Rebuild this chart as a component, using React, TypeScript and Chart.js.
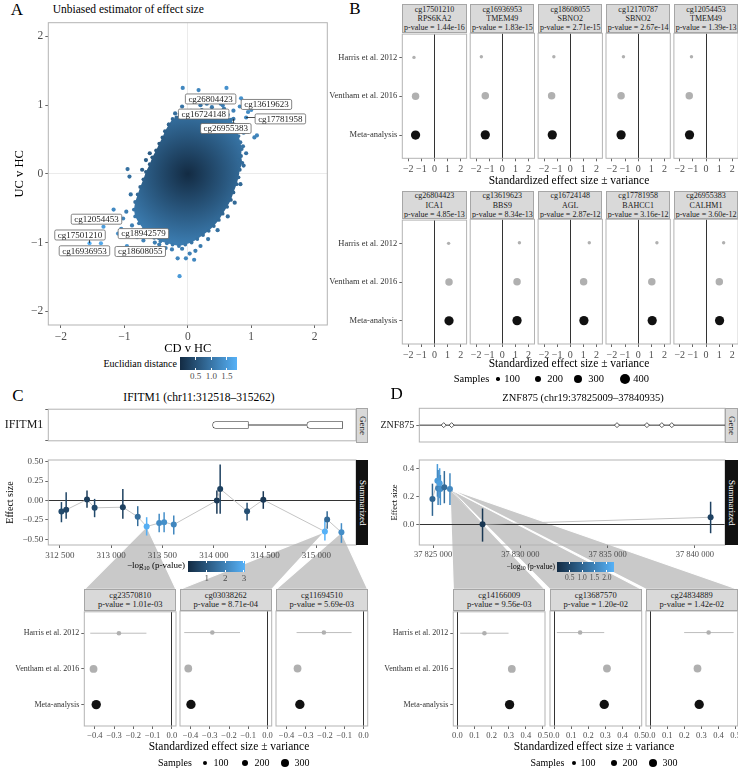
import React, { useEffect, useRef } from 'react';
import { Chart, registerables } from 'chart.js';

Chart.register(...registerables);
const SERIF = "'Liberation Serif', 'DejaVu Serif', serif";
Chart.defaults.font.family = SERIF;
Chart.defaults.color = '#4d4d4d';

// ================= DATA =================
// Panel A: unbiased estimator of effect size (CD v HC vs UC v HC)
const aTicks = [-2, -1, 0, 1, 2];
const aRange = [-2.2, 2.2];
const distanceRange = [0, 1.82];
const distanceBreaks = [0.5, 1.0, 1.5];
const cloudX = [-0.30, -0.24, -0.18, -0.13, -0.04, 0.05, 0.14, 0.22, 0.30, 0.38, 0.46, 0.55, 0.62, 0.68, 0.73, 0.77, 0.80, 0.83, 0.85, 0.84, 0.86, 0.82, 0.80, 0.77, 0.72, 0.68, 0.62, 0.55, 0.49, 0.41, 0.33, 0.24, 0.15, 0.06, -0.04, -0.14, -0.24, -0.33, -0.43, -0.53, -0.62, -0.70, -0.77, -0.83, -0.85, -0.83, -0.79, -0.75, -0.70, -0.66, -0.60, -0.56, -0.50, -0.45, -0.40, -0.36];
const cloudY = [0.72, 0.80, 0.82, 0.87, 0.88, 0.92, 0.90, 0.93, 0.90, 0.91, 0.88, 0.86, 0.84, 0.79, 0.72, 0.64, 0.55, 0.46, 0.36, 0.26, 0.16, 0.06, -0.05, -0.15, -0.27, -0.38, -0.48, -0.58, -0.67, -0.76, -0.83, -0.89, -0.95, -1.00, -1.03, -1.05, -1.03, -1.01, -0.98, -0.93, -0.88, -0.80, -0.72, -0.62, -0.52, -0.41, -0.30, -0.19, -0.08, 0.03, 0.14, 0.24, 0.34, 0.44, 0.53, 0.62];
const outlierX = [-0.08, 0.17, 0.61, 0.05, 0.30, 0.45, 0.70, 0.84, -0.09, 0.95, 1.00, 0.90, 0.88, 1.05, 1.09, 0.87, 0.80, 0.20, 0.38, -0.20, 0.57, -0.38, -0.95, -0.92, -0.60, -0.72, -0.90, -0.97, -1.17, -1.02, -0.80, -0.70, -0.45, -1.05, -0.16, -0.03, 0.10, 0.03, -0.13, -0.09, 0.20, 0.32, -0.25, 0.47, 0.63, 0.74, 0.83, 0.88, -0.52, -0.35, 0.12, -0.66, 0.92, 0.72, 0.55, -0.88];
const outlierY = [1.25, 1.22, 1.25, 1.12, 1.02, 1.06, 1.08, 1.10, 0.98, 0.90, 0.93, 0.70, 0.60, 0.53, 0.56, 0.40, 0.20, 1.00, 0.97, 0.88, 0.95, 0.51, 0.07, -0.04, 0.30, 0.06, -0.30, -0.55, -0.52, -0.65, -0.92, -0.97, -1.03, -0.80, -1.23, -1.23, -1.25, -1.16, -1.49, -1.09, -1.05, -0.95, -1.10, -0.82, -0.62, -0.42, -0.15, 0.12, -1.00, -1.08, -1.12, 0.20, 0.30, 0.92, 1.00, -0.75];
const labeledIds = ['cg26804423', 'cg13619623', 'cg16724148', 'cg17781958', 'cg26955383', 'cg12054453', 'cg17501210', 'cg18942579', 'cg16936953', 'cg18608055'];
const labeledX = [0.52, 0.82, 0.63, 0.92, 0.72, -1.33, -1.55, -1.10, -1.37, -0.96];
const labeledY = [1.02, 0.98, 0.86, 0.82, 0.80, -0.77, -1.01, -0.87, -1.01, -1.05];
const labelBoxX = [0.36, 1.24, 0.25, 1.46, 0.60, -1.44, -1.70, -0.70, -1.63, -0.75];
const labelBoxY = [1.09, 1.01, 0.87, 0.80, 0.66, -0.66, -0.89, -0.87, -1.12, -1.13];

// Panel B: top CpGs forest plots
const studies = ['Harris et al. 2012', 'Ventham et al. 2016', 'Meta-analysis'];
const studySamples = [100, 250, 350];
const bProbes = ['cg17501210', 'cg16936953', 'cg18608055', 'cg12170787', 'cg12054453', 'cg26804423', 'cg13619623', 'cg16724148', 'cg17781958', 'cg26955383'];
const bGenes = ['RPS6KA2', 'TMEM49', 'SBNO2', 'SBNO2', 'TMEM49', 'ICA1', 'BBS9', 'AGL', 'BAHCC1', 'CALHM1'];
const bPvals = ['1.44e-16', '1.83e-15', '2.71e-15', '2.67e-14', '1.39e-13', '4.85e-13', '8.34e-13', '2.87e-12', '3.16e-12', '3.60e-12'];
const bHarris = [-1.56, -1.60, -1.25, -1.12, -1.11, 1.08, 1.30, 1.45, 1.43, 1.34];
const bVentham = [-1.44, -1.30, -1.42, -1.30, -1.28, 1.11, 1.12, 1.02, 1.04, 1.01];
const bMeta = [-1.44, -1.30, -1.37, -1.30, -1.26, 1.11, 1.12, 1.04, 1.07, 1.03];
const bTicks = [-2, -1, 0, 1, 2];
const bRange = [-2.45, 2.45];
const bSampleBreaks = [100, 200, 300, 400];

// Panel C: IFITM1
const cTitle = 'IFITM1 (chr11:312518–315262)';
const cGeneName = 'IFITM1';
const cExonStart = [313988, 314906];
const cExonEnd = [314337, 315256];
const cXRange = [312388, 315385];
const cXTicks = [312500, 313000, 313500, 314000, 314500, 315000];
const cYRange = [-0.573, 0.522];
const cYTicks = [-0.5, -0.25, 0, 0.25, 0.5];
const cPos = [312516, 312562, 312765, 312839, 313114, 313259, 313346, 313468, 313516, 313610, 314030, 314062, 314324, 314482, 315082, 315104, 315243];
const cEff = [-0.142, -0.120, 0.013, -0.094, -0.086, -0.210, -0.335, -0.290, -0.280, -0.310, 0.000, 0.150, -0.137, 0.010, -0.400, -0.245, -0.410];
const cLo = [-0.280, -0.236, -0.094, -0.215, -0.236, -0.330, -0.451, -0.408, -0.408, -0.438, -0.172, -0.172, -0.258, -0.107, -0.515, -0.365, -0.545];
const cHi = [-0.020, 0.107, 0.129, 0.021, 0.150, -0.073, -0.215, -0.172, -0.150, -0.193, 0.129, 0.464, -0.030, 0.120, -0.258, -0.137, -0.292];
const cLogP = [0.7, 0.6, 0.4, 0.7, 0.5, 1.5, 3.0, 2.2, 2.3, 2.1, 0.3, 0.5, 0.8, 0.3, 3.06, 1.4, 2.24];
const cLogPRange = [0, 3.06];
const cLogPBreaks = [1, 2, 3];
const cLinks = [6, 14, 16];
const cfProbes = ['cg23570810', 'cg03038262', 'cg11694510'];
const cfPvals = ['1.01e-03', '8.71e-04', '5.69e-03'];
const cfHarris = [-0.275, -0.287, -0.206];
const cfHarrisLo = [-0.424, -0.433, -0.348];
const cfHarrisHi = [-0.132, -0.143, -0.062];
const cfVentham = [-0.407, -0.412, -0.343];
const cfMeta = [-0.393, -0.398, -0.331];
const cfRange = [-0.455, 0.0217];
const cfTicks = [-0.4, -0.3, -0.2, -0.1, 0];
const cdSampleBreaks = [100, 200, 300];

// Panel D: ZNF875
const dTitle = 'ZNF875 (chr19:37825009–37840935)';
const dGeneName = 'ZNF875';
const dExonPos = [37825611, 37826067, 37835542, 37837255, 37838111, 37838682];
const dXRange = [37824213, 37841731];
const dXTicks = [37825000, 37830000, 37835000, 37840000];
const dYRange = [-0.148, 0.459];
const dYTicks = [0, 0.2, 0.4];
const dPos = [37824966, 37825250, 37825290, 37825380, 37825420, 37825648, 37825970, 37827837, 37840907];
const dEff = [0.180, 0.310, 0.257, 0.293, 0.252, 0.264, 0.252, 0.000, 0.050];
const dLo = [0.060, 0.197, 0.137, 0.186, 0.137, 0.150, 0.138, -0.124, -0.064];
const dHi = [0.290, 0.430, 0.387, 0.400, 0.352, 0.380, 0.364, 0.113, 0.161];
const dLogP = [1.0, 1.9, 1.5, 2.0, 1.7, 1.1, 1.6, 0.2, 0.4];
const dLogPRange = [0, 2.3];
const dLogPBreaks = [0.5, 1.0, 1.5, 2.0];
const dLinks = [6, 6, 6];
const dfProbes = ['cg14166009', 'cg13687570', 'cg24834889'];
const dfPvals = ['9.56e-03', '1.20e-02', '1.42e-02'];
const dfHarris = [0.158, 0.152, 0.342];
const dfHarrisLo = [0.016, 0.016, 0.199];
const dfHarrisHi = [0.299, 0.293, 0.488];
const dfVentham = [0.318, 0.309, 0.277];
const dfMeta = [0.305, 0.293, 0.287];
const dfRange = [-0.024, 0.512];
const dfTicks = [0, 0.1, 0.2, 0.3, 0.4, 0.5];

// ================= HELPERS =================
const LOW = [19, 43, 67];
const HIGH = [86, 177, 247];
function gradColor(t: number) {
  const k = Math.max(0, Math.min(1, t));
  const c = LOW.map((v, i) => Math.round(v + (HIGH[i] - v) * k));
  return `rgb(${c[0]},${c[1]},${c[2]})`;
}
const distColor = (x: number, y: number) => gradColor((Math.hypot(x, y) - distanceRange[0]) / (distanceRange[1] - distanceRange[0]));
const minus = (s: string) => s.replace('-', '\u2212');
const fmtInt = (v: number) => minus(String(Math.round(v)));
const fmtFix = (d: number) => (v: number) => minus((Math.abs(v) < 1e-9 ? 0 : v).toFixed(d));
const fmtThousands = (v: number) => String(Math.round(v)).replace(/\B(?=(\d{3})+(?!\d))/g, ' ');
const rB = (n: number) => Math.sqrt(Math.max(0.5, 0.0737 * n - 4.48));
const rCD = (n: number) => Math.sqrt(Math.max(0.5, 0.066 * n - 1.31));
const studyColors = ['#b0b0b0', '#b0b0b0', '#111111'];

const framePlugin = {
  id: 'frame',
  beforeDatasetsDraw(chart: any, _a: any, opts: any) {
    if (!opts || !opts.color) return;
    const { ctx, chartArea: a } = chart;
    ctx.save();
    ctx.strokeStyle = opts.color;
    ctx.lineWidth = 1;
    ctx.strokeRect(a.left, a.top, a.right - a.left, a.bottom - a.top);
    ctx.restore();
  },
};
const errorBarPlugin = {
  id: 'errbars',
  beforeDatasetsDraw(chart: any) {
    const { ctx } = chart;
    chart.data.datasets.forEach((ds: any, i: number) => {
      if (!ds.errLo) return;
      const meta = chart.getDatasetMeta(i);
      const xs = chart.scales[meta.xAxisID];
      const ys = chart.scales[meta.yAxisID];
      ds.data.forEach((p: any, j: number) => {
        const lo = ds.errLo[j];
        const hi = ds.errHi[j];
        if (lo == null || hi == null) return;
        ctx.save();
        ctx.strokeStyle = Array.isArray(ds.errColor) ? ds.errColor[j] : ds.errColor;
        ctx.lineWidth = ds.errWidth || 1;
        ctx.beginPath();
        if (ds.errAxis === 'x') {
          const y = ys.getPixelForValue(p.y);
          ctx.moveTo(xs.getPixelForValue(lo), y);
          ctx.lineTo(xs.getPixelForValue(hi), y);
        } else {
          const x = xs.getPixelForValue(p.x);
          ctx.moveTo(x, ys.getPixelForValue(lo));
          ctx.lineTo(x, ys.getPixelForValue(hi));
        }
        ctx.stroke();
        ctx.restore();
      });
    });
  },
};
Chart.register(framePlugin as any, errorBarPlugin as any);

function linAxis(p: any) {
  const show = p.show !== false;
  const ax: any = {
    type: 'linear',
    min: p.min,
    max: p.max,
    reverse: !!p.reverse,
    afterBuildTicks: (s: any) => {
      s.ticks = p.ticks.map((v: number) => ({ value: v }));
    },
    ticks: {
      display: show,
      autoSkip: false,
      maxRotation: 0,
      minRotation: 0,
      padding: p.pad ?? 2,
      font: { size: p.size, family: SERIF },
      color: p.color || '#4d4d4d',
      callback: (v: any) => p.fmt(Number(v)),
    },
    grid: {
      display: show || !!p.zero,
      drawOnChartArea: !!p.zero,
      drawTicks: show,
      color: (c: any) => (p.zero && c.tick && Math.abs(c.tick.value) < 1e-9 ? p.zero : 'rgba(0,0,0,0)'),
      tickLength: show ? 3 : 0,
      tickColor: '#666666',
      lineWidth: 1,
    },
    border: { display: false },
    title: { display: false },
  };
  if (p.title) {
    ax.title = { display: true, text: p.title, color: '#000', font: { size: p.titleSize, family: SERIF }, padding: p.titlePad };
  }
  return ax;
}
function hiddenAxis(r: number[]) {
  return {
    type: 'linear',
    min: r[0],
    max: r[1],
    ticks: { display: false },
    grid: { display: false },
    border: { display: false },
    title: { display: false },
  };
}

type Box = { l: number; t: number; r: number; b: number };

function ChartBox({ box, area, make }: { box: Box; area: Box; make: () => any }) {
  const ref = useRef<HTMLCanvasElement | null>(null);
  useEffect(() => {
    if (!ref.current) return;
    const cfg = make();
    const o = cfg.options || (cfg.options = {});
    o.animation = false;
    o.responsive = false;
    o.maintainAspectRatio = false;
    o.events = [];
    o.layout = { padding: { left: 0, top: area.t - box.t, right: box.r - area.r, bottom: 0 } };
    o.plugins = Object.assign({ legend: { display: false }, tooltip: { enabled: false } }, o.plugins || {});
    o.scales.x.afterFit = (s: any) => {
      s.height = box.b - area.b;
    };
    o.scales.y.afterFit = (s: any) => {
      s.width = area.l - box.l;
    };
    const chart = new Chart(ref.current, cfg);
    return () => chart.destroy();
  }, []);
  const w = box.r - box.l;
  const h = box.b - box.t;
  return <canvas ref={ref} width={w} height={h} style={{ position: 'absolute', left: box.l, top: box.t, width: w, height: h }} />;
}

function T({ x, y, s, children, a = 'c', c = '#000' }: any) {
  const tx = a === 'c' ? '-50%' : a === 'r' ? '-100%' : '0';
  return (
    <div style={{ position: 'absolute', left: x, top: y, transform: `translate(${tx}, -50%)`, fontSize: s, fontFamily: SERIF, color: c, whiteSpace: 'nowrap', lineHeight: 1 }}>
      {children}
    </div>
  );
}

function Strip({ l, t, w, h, lines, size, lh }: any) {
  return (
    <div style={{ position: 'absolute', left: l, top: t, width: w, height: h, background: '#d9d9d9', border: '1px solid #a6a6a6', boxSizing: 'border-box', display: 'flex', flexDirection: 'column', justifyContent: 'center', alignItems: 'center', fontFamily: SERIF, fontSize: size, lineHeight: `${lh}px`, color: '#1a1a1a', whiteSpace: 'nowrap', overflow: 'hidden' }}>
      {lines.map((s: string, i: number) => (
        <div key={i}>{s}</div>
      ))}
    </div>
  );
}

function VStrip({ l, t, w, h, text, dark, size }: any) {
  return (
    <div style={{ position: 'absolute', left: l, top: t, width: w, height: h, background: dark ? '#111' : '#d9d9d9', border: dark ? 'none' : '1px solid #a6a6a6', boxSizing: 'border-box', display: 'flex', alignItems: 'center', justifyContent: 'center', overflow: 'hidden' }}>
      <div style={{ writingMode: 'vertical-rl', fontFamily: SERIF, fontSize: size, color: dark ? '#fff' : '#1a1a1a', whiteSpace: 'nowrap', lineHeight: 1 }}>{text}</div>
    </div>
  );
}

function ColorBar({ label, lx, box, range, breaks, fmt, size, lsize }: any) {
  const w = box.r - box.l;
  return (
    <>
      <T x={lx} y={(box.t + box.b) / 2} s={lsize} a="r">
        {label}
      </T>
      <div style={{ position: 'absolute', left: box.l, top: box.t, width: w, height: box.b - box.t, background: 'linear-gradient(to right, #132B43, #56B1F7)' }} />
      {breaks.map((b: number) => {
        const x = box.l + ((b - range[0]) / (range[1] - range[0])) * w;
        return (
          <React.Fragment key={b}>
            <div style={{ position: 'absolute', left: x - 0.5, top: box.t, width: 1, height: 2.5, background: '#fff' }} />
            <div style={{ position: 'absolute', left: x - 0.5, top: box.b - 2.5, width: 1, height: 2.5, background: '#fff' }} />
            <T x={x} y={box.b + 6} s={size} c="#4d4d4d">
              {fmt(b)}
            </T>
          </React.Fragment>
        );
      })}
    </>
  );
}

function SizeLegend({ y, labelX, dotX, textX, breaks, rFn, size }: any) {
  return (
    <>
      <T x={labelX} y={y} s={size}>
        Samples
      </T>
      {breaks.map((b: number, i: number) => {
        const r = rFn(b);
        return (
          <React.Fragment key={b}>
            <div style={{ position: 'absolute', left: dotX[i] - r, top: y - r, width: 2 * r, height: 2 * r, borderRadius: '50%', background: '#000' }} />
            <T x={textX[i]} y={y} s={size}>
              {b}
            </T>
          </React.Fragment>
        );
      })}
    </>
  );
}

// ================= CONFIGS =================
function scatterAConfig() {
  const labelPlugin = {
    id: 'aLabels',
    afterDatasetsDraw(chart: any) {
      const { ctx, scales } = chart;
      const x = scales.x;
      const y = scales.y;
      ctx.save();
      ctx.font = `9px ${SERIF}`;
      labeledIds.forEach((id, i) => {
        const bx = x.getPixelForValue(labelBoxX[i]);
        const by = y.getPixelForValue(labelBoxY[i]);
        const tw = ctx.measureText(id).width;
        const w = tw + 6;
        const h = 10;
        const px = x.getPixelForValue(labeledX[i]);
        const py = y.getPixelForValue(labeledY[i]);
        const cx = Math.max(bx - w / 2, Math.min(px, bx + w / 2));
        const cy = Math.max(by - h / 2, Math.min(py, by + h / 2));
        if (Math.hypot(px - cx, py - cy) > 3) {
          ctx.strokeStyle = '#222';
          ctx.lineWidth = 0.8;
          ctx.beginPath();
          ctx.moveTo(px, py);
          ctx.lineTo(cx, cy);
          ctx.stroke();
        }
        ctx.fillStyle = '#fff';
        ctx.strokeStyle = '#666';
        ctx.lineWidth = 0.8;
        ctx.beginPath();
        if ((ctx as any).roundRect) (ctx as any).roundRect(bx - w / 2, by - h / 2, w, h, 1.5);
        else ctx.rect(bx - w / 2, by - h / 2, w, h);
        ctx.fill();
        ctx.stroke();
        ctx.fillStyle = '#222';
        ctx.textAlign = 'center';
        ctx.textBaseline = 'middle';
        ctx.fillText(id, bx, by + 0.5);
      });
      ctx.restore();
    },
  };
  const cloud = cloudX.map((v, i) => ({ x: v, y: cloudY[i] }));
  cloud.push({ x: cloudX[0], y: cloudY[0] });
  const ptColor = (c: any) => (c.raw ? distColor(c.raw.x, c.raw.y) : '#132B43');
  return {
    type: 'scatter',
    data: {
      datasets: [
        { data: labeledX.map((v, i) => ({ x: v, y: labeledY[i] })), pointRadius: 2.1, pointBorderWidth: 0, pointBackgroundColor: ptColor },
        { data: outlierX.map((v, i) => ({ x: v, y: outlierY[i] })), pointRadius: 2.1, pointBorderWidth: 0, pointBackgroundColor: ptColor },
        {
          type: 'line',
          data: cloud,
          fill: 'shape',
          borderWidth: 0,
          borderColor: 'rgba(0,0,0,0)',
          tension: 0,
          pointRadius: 1.9,
          pointBorderWidth: 0,
          pointBackgroundColor: ptColor,
          backgroundColor: (c: any) => {
            const ch = c.chart;
            const sx = ch.scales.x;
            const sy = ch.scales.y;
            if (!ch.chartArea || !sx || !sy) return '#1f4a73';
            const cx = sx.getPixelForValue(0);
            const cy = sy.getPixelForValue(0);
            const r = sx.getPixelForValue(distanceRange[1]) - cx;
            const g = ch.ctx.createRadialGradient(cx, cy, 0, cx, cy, r);
            g.addColorStop(0, '#132B43');
            g.addColorStop(1, '#56B1F7');
            return g;
          },
        },
      ],
    },
    options: {
      scales: {
        x: linAxis({ min: aRange[0], max: aRange[1], ticks: aTicks, fmt: fmtInt, size: 11.5, zero: '#ebebeb', title: 'CD v HC', titleSize: 12.5, titlePad: { top: 0, bottom: 0 } }),
        y: linAxis({ min: aRange[0], max: aRange[1], ticks: aTicks, fmt: fmtInt, size: 11.5, zero: '#ebebeb', title: 'UC v HC', titleSize: 12.5, titlePad: { top: 12, bottom: 0 } }),
      },
      plugins: { frame: { color: '#b3b3b3' } },
    },
    plugins: [labelPlugin],
  };
}

function forestConfig(p: any) {
  const pts = [
    { x: p.h, y: 1 },
    { x: p.v, y: 2 },
    { x: p.m, y: 3 },
  ];
  return {
    type: 'scatter',
    data: {
      datasets: [
        {
          data: pts,
          pointRadius: studySamples.map(p.rFn),
          pointBackgroundColor: studyColors,
          pointBorderWidth: 0,
          errLo: [p.hLo ?? null, null, null],
          errHi: [p.hHi ?? null, null, null],
          errAxis: 'x',
          errColor: '#bdbdbd',
          errWidth: 1,
        },
      ],
    },
    options: {
      scales: {
        x: linAxis({ min: p.xr[0], max: p.xr[1], ticks: p.ticks, fmt: p.fmt, size: p.tickSize, zero: '#333333' }),
        y: linAxis({ min: 0.4, max: 3.6, reverse: true, ticks: [1, 2, 3], fmt: (v: number) => studies[Math.round(v) - 1], size: p.labelSize, show: p.showY, color: '#333333' }),
      },
      plugins: { frame: { color: '#b3b3b3' } },
    },
  };
}

function effectConfig(p: any) {
  const cols = p.logp.map((v: number) => gradColor((v - p.crange[0]) / (p.crange[1] - p.crange[0])));
  const linksPlugin = {
    id: 'links',
    beforeDraw(chart: any) {
      const { ctx, scales } = chart;
      const ds = chart.data.datasets[0].data;
      ctx.save();
      p.links.forEach((k: number, j: number) => {
        const px = scales.x.getPixelForValue(ds[k].x);
        const py = scales.y.getPixelForValue(ds[k].y);
        const tg = p.targets[j];
        ctx.beginPath();
        ctx.moveTo(px, py);
        ctx.lineTo(tg.r - p.box.l, tg.t - p.box.t);
        ctx.lineTo(tg.l - p.box.l, tg.t - p.box.t);
        ctx.closePath();
        ctx.fillStyle = '#c9c9c9';
        ctx.fill();
        ctx.strokeStyle = '#ffffff';
        ctx.lineWidth = 1.2;
        ctx.stroke();
      });
      ctx.restore();
    },
  };
  return {
    type: 'scatter',
    data: {
      datasets: [
        {
          data: p.pos.map((x: number, i: number) => ({ x, y: p.eff[i] })),
          showLine: true,
          borderColor: '#c4c4c4',
          borderWidth: 1,
          pointRadius: 3,
          pointBorderWidth: 0,
          pointBackgroundColor: cols,
          errLo: p.lo,
          errHi: p.hi,
          errAxis: 'y',
          errColor: cols,
          errWidth: 1.5,
        },
      ],
    },
    options: {
      scales: {
        x: linAxis({ min: p.xr[0], max: p.xr[1], ticks: p.xticks, fmt: fmtThousands, size: p.tsx }),
        y: linAxis({ min: p.yr[0], max: p.yr[1], ticks: p.yticks, fmt: p.yfmt, size: p.tsy, zero: '#333333', title: 'Effect size', titleSize: p.titleSize, titlePad: { top: p.titlePad, bottom: 0 } }),
      },
      plugins: { frame: { color: '#b3b3b3' } },
    },
    plugins: [linksPlugin],
  };
}

function geneConfigC() {
  return {
    type: 'scatter',
    data: {
      datasets: [
        {
          type: 'bar',
          indexAxis: 'y',
          data: cExonStart.map((s, i) => ({ x: [s, cExonEnd[i]], y: 1 })),
          backgroundColor: '#ffffff',
          borderColor: '#333333',
          borderWidth: 0.8,
          borderSkipped: false,
          barThickness: 7,
          borderRadius: { topLeft: 3.5, bottomLeft: 3.5, topRight: 0, bottomRight: 0 },
        },
        { type: 'line', data: [{ x: cExonEnd[0], y: 1 }, { x: cExonStart[1], y: 1 }], borderColor: '#333333', borderWidth: 1, pointRadius: 0 },
      ],
    },
    options: {
      scales: {
        x: hiddenAxis(cXRange),
        y: linAxis({ min: 0, max: 2, ticks: [1], fmt: () => cGeneName, size: 12, color: '#1a1a1a' }),
      },
      plugins: { frame: { color: '#b3b3b3' } },
    },
  };
}

function geneConfigD() {
  return {
    type: 'scatter',
    data: {
      datasets: [
        { data: dExonPos.map((x) => ({ x, y: 1 })), pointStyle: 'rectRot', pointRadius: 2.5, pointBackgroundColor: '#ffffff', pointBorderColor: '#333333', pointBorderWidth: 0.8 },
        { type: 'line', data: [{ x: dXRange[0], y: 1 }, { x: dXRange[1], y: 1 }], borderColor: '#333333', borderWidth: 1, pointRadius: 0 },
      ],
    },
    options: {
      scales: {
        x: hiddenAxis(dXRange),
        y: linAxis({ min: 0, max: 2, ticks: [1], fmt: () => dGeneName, size: 10, color: '#1a1a1a' }),
      },
      plugins: { frame: { color: '#b3b3b3' } },
    },
  };
}

// ================= LAYOUT =================
const cFacetL = [84.3, 180, 276];
const dFacetL = [453.3, 550, 646];
const facetW = 91.7;
const cdStripTop = 589.3;
const cdPanelTop = 611;
const cdPanelBottom = 726;

export default function App() {
  const cEffBox = { l: 0, t: 450, r: 368, b: 590 };
  const dEffBox = { l: 370, t: 450, r: 738, b: 590 };
  const cTargets = cFacetL.map((l) => ({ l, r: l + facetW, t: cdStripTop }));
  const dTargets = dFacetL.map((l) => ({ l, r: l + facetW, t: cdStripTop }));

  return (
    <div style={{ position: 'absolute', left: 0, top: 0, width: 738, height: 770, background: '#fff', overflow: 'hidden', fontFamily: SERIF }}>
      {/* ---------- Panel A ---------- */}
      <T x={17} y={9} s={17}>A</T>
      <T x={52.7} y={10} s={11.5} a="l">Unbiased estimator of effect size</T>
      <ChartBox box={{ l: 0, t: 0, r: 345, b: 356 }} area={{ l: 48.3, t: 22.7, r: 327.3, b: 325 }} make={scatterAConfig} />
      <ColorBar label="Euclidian distance" lx={177} box={{ l: 180, t: 357, r: 237, b: 370 }} range={distanceRange} breaks={distanceBreaks} fmt={(v: number) => v.toFixed(1)} size={9} lsize={10} />

      {/* ---------- Panel B ---------- */}
      <T x={355} y={8} s={17}>B</T>
      {bProbes.map((probe, i) => {
        const row = Math.floor(i / 5);
        const col = i % 5;
        const l = 402.3 + col * 67.9;
        const r = l + 64.3;
        const t = row ? 219.3 : 33.3;
        const b = row ? 344 : 158.3;
        const st = row ? 191 : 4.3;
        const box = { l: col === 0 ? 328 : Math.floor(l) - 6, t: Math.floor(t) - 6, r: Math.ceil(r) + 6, b: Math.ceil(b) + 16 };
        return (
          <React.Fragment key={probe}>
            <ChartBox
              box={box}
              area={{ l, t, r, b }}
              make={() => forestConfig({ h: bHarris[i], v: bVentham[i], m: bMeta[i], xr: bRange, ticks: bTicks, fmt: fmtInt, tickSize: 10, labelSize: 8.5, showY: col === 0, rFn: rB })}
            />
            <Strip l={l} t={st} w={r - l} h={t - st} lines={[probe, bGenes[i], `p-value = ${bPvals[i]}`]} size={8} lh={9.2} />
          </React.Fragment>
        );
      })}
      <T x={569} y={181} s={11.5}>Standardized effect size ± variance</T>
      <T x={569} y={364} s={11.5}>Standardized effect size ± variance</T>
      <SizeLegend y={379} labelX={471.5} dotX={[498, 538, 578, 625]} textX={[512, 555, 596, 641]} breaks={bSampleBreaks} rFn={rB} size={10.5} />

      {/* ---------- Panel C ---------- */}
      <T x={18} y={395} s={17}>C</T>
      <T x={199} y={398} s={11.5}>{cTitle}</T>
      <ChartBox box={{ l: 0, t: 400, r: 362, b: 450 }} area={{ l: 48.3, t: 408.3, r: 356, b: 443.3 }} make={geneConfigC} />
      <VStrip l={356} t={408.3} w={12.3} h={35} text="Gene" size={9} />
      <ChartBox
        box={cEffBox}
        area={{ l: 48.3, t: 460, r: 356, b: 545 }}
        make={() =>
          effectConfig({ pos: cPos, eff: cEff, lo: cLo, hi: cHi, logp: cLogP, crange: cLogPRange, xr: cXRange, yr: cYRange, xticks: cXTicks, yticks: cYTicks, yfmt: fmtFix(2), tsx: 9, tsy: 9, titleSize: 10, titlePad: 4, links: cLinks, targets: cTargets, box: cEffBox })
        }
      />
      <VStrip l={356} t={460} w={12.3} h={85} text="Summarized" dark size={9} />
      <ColorBar
        label={<span>−log<sub style={{ fontSize: '0.7em', verticalAlign: '-0.3em' }}>10</sub> (p-value)</span>}
        lx={185}
        box={{ l: 188.3, t: 560.7, r: 245, b: 572 }}
        range={cLogPRange}
        breaks={cLogPBreaks}
        fmt={(v: number) => String(v)}
        size={9}
        lsize={9}
      />
      {cfProbes.map((probe, j) => {
        const l = cFacetL[j];
        const r = l + facetW;
        const box = { l: j === 0 ? 8 : Math.floor(l) - 6, t: cdPanelTop - 6, r: Math.ceil(r) + 8, b: 744 };
        return (
          <React.Fragment key={probe}>
            <ChartBox
              box={box}
              area={{ l, t: cdPanelTop, r, b: cdPanelBottom }}
              make={() => forestConfig({ h: cfHarris[j], hLo: cfHarrisLo[j], hHi: cfHarrisHi[j], v: cfVentham[j], m: cfMeta[j], xr: cfRange, ticks: cfTicks, fmt: fmtFix(1), tickSize: 8.5, labelSize: 8, showY: j === 0, rFn: rCD })}
            />
            <Strip l={l} t={cdStripTop} w={facetW} h={cdPanelTop - cdStripTop} lines={[probe, `p-value = ${cfPvals[j]}`]} size={8.5} lh={9.5} />
          </React.Fragment>
        );
      })}
      <T x={229} y={747} s={11.5}>Standardized effect size ± variance</T>
      <SizeLegend y={763} labelX={175} dotX={[205, 245, 285]} textX={[221, 262, 302]} breaks={cdSampleBreaks} rFn={rCD} size={10} />

      {/* ---------- Panel D ---------- */}
      <T x={396.7} y={393} s={17}>D</T>
      <T x={583} y={398} s={10.5}>{dTitle}</T>
      <ChartBox box={{ l: 370, t: 400, r: 731, b: 450 }} area={{ l: 419.3, t: 408.3, r: 725, b: 443.3 }} make={geneConfigD} />
      <VStrip l={725} t={408.3} w={12.7} h={35} text="Gene" size={9} />
      <ChartBox
        box={dEffBox}
        area={{ l: 419.3, t: 460, r: 725, b: 545 }}
        make={() =>
          effectConfig({ pos: dPos, eff: dEff, lo: dLo, hi: dHi, logp: dLogP, crange: dLogPRange, xr: dXRange, yr: dYRange, xticks: dXTicks, yticks: dYTicks, yfmt: fmtFix(1), tsx: 8.5, tsy: 9, titleSize: 8.5, titlePad: 20, links: dLinks, targets: dTargets, box: dEffBox })
        }
      />
      <VStrip l={725} t={460} w={12.7} h={85} text="Summarized" dark size={9} />
      <ColorBar
        label={<span>−log<sub style={{ fontSize: '0.7em', verticalAlign: '-0.3em' }}>10</sub> (p-value)</span>}
        lx={555}
        box={{ l: 557.3, t: 561.7, r: 614.3, b: 572.3 }}
        range={dLogPRange}
        breaks={dLogPBreaks}
        fmt={(v: number) => v.toFixed(1)}
        size={7.5}
        lsize={7.5}
      />
      {dfProbes.map((probe, j) => {
        const l = dFacetL[j];
        const r = l + facetW;
        const box = { l: j === 0 ? 378 : Math.floor(l) - 6, t: cdPanelTop - 6, r: Math.ceil(r) + 8, b: 744 };
        return (
          <React.Fragment key={probe}>
            <ChartBox
              box={box}
              area={{ l, t: cdPanelTop, r, b: cdPanelBottom }}
              make={() => forestConfig({ h: dfHarris[j], hLo: dfHarrisLo[j], hHi: dfHarrisHi[j], v: dfVentham[j], m: dfMeta[j], xr: dfRange, ticks: dfTicks, fmt: fmtFix(1), tickSize: 8.5, labelSize: 8, showY: j === 0, rFn: rCD })}
            />
            <Strip l={l} t={cdStripTop} w={facetW} h={cdPanelTop - cdStripTop} lines={[probe, `p-value = ${dfPvals[j]}`]} size={8.5} lh={9.5} />
          </React.Fragment>
        );
      })}
      <T x={594} y={747} s={11.5}>Standardized effect size ± variance</T>
      <SizeLegend y={763} labelX={547.5} dotX={[574, 614, 653]} textX={[588, 630, 670]} breaks={cdSampleBreaks} rFn={rCD} size={10} />
    </div>
  );
}
